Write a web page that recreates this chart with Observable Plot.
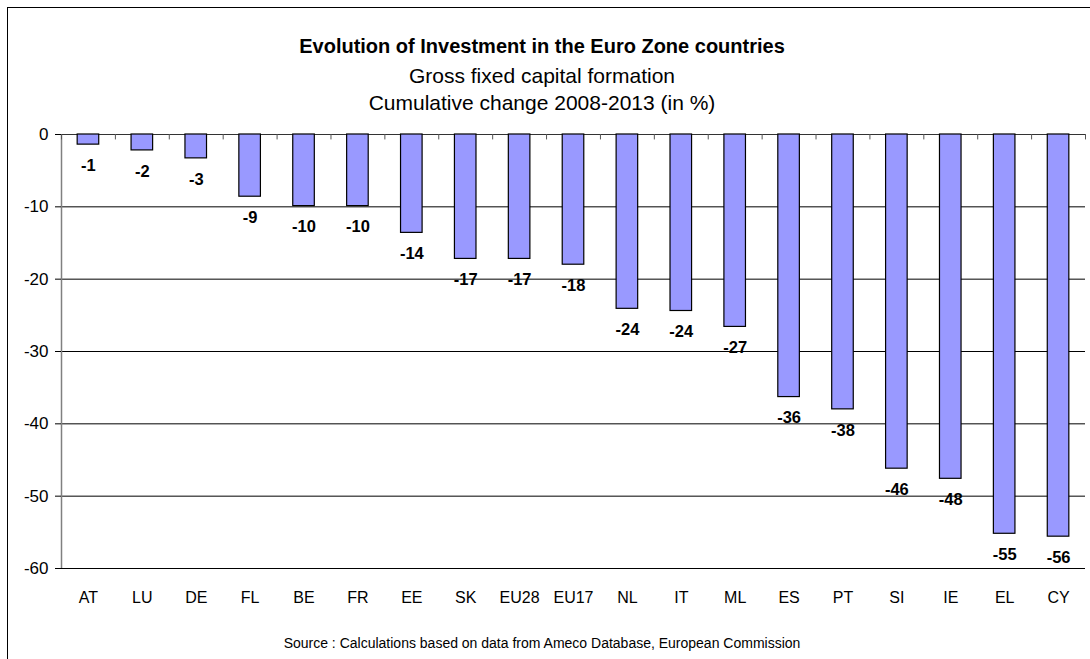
<!DOCTYPE html>
<html><head><meta charset="utf-8">
<script src="https://cdn.jsdelivr.net/npm/d3@7"></script>
<script src="https://cdn.jsdelivr.net/npm/@observablehq/plot@0.6"></script>
<style>
body{margin:0;background:#fff;font-family:"Liberation Sans",Arial,sans-serif;color:#000;}
#frame{position:absolute;left:7px;top:7px;width:1200px;height:800px;border:1.5px solid #000;}
.t{position:absolute;left:0;width:1084px;text-align:center;white-space:nowrap;}
#chart{position:absolute;left:9px;top:120px;}
</style></head><body>
<div id="frame"></div>
<div id="chart"></div>
<div class="t" style="top:34px;font-size:20px;font-weight:bold;line-height:24px">Evolution of Investment in the Euro Zone countries</div>
<div class="t" style="top:64px;font-size:21px;line-height:24px">Gross fixed capital formation</div>
<div class="t" style="top:91px;font-size:21px;line-height:24px">Cumulative change 2008-2013 (in %)</div>
<div class="t" style="top:635px;font-size:14px;line-height:16px">Source : Calculations based on data from Ameco Database, European Commission</div>
<script>
const countries = ["AT","LU","DE","FL","BE","FR","EE","SK","EU28","EU17","NL","IT","ML","ES","PT","SI","IE","EL","CY"];
const changes = [-1.4,-2.2,-3.3,-8.6,-9.9,-9.9,-13.6,-17.2,-17.2,-18.0,-24.1,-24.4,-26.6,-36.3,-38.0,-46.2,-47.6,-55.2,-55.6];
const yTicks = [0,-10,-20,-30,-40,-50,-60];
const gridTicks = [-10,-20,-30,-40,-50,-60];

const data = countries.map((c,i)=>({c, v: changes[i]}));
const W = 1081, ML = 52, MR = 5;
const half = (W - ML - MR) / countries.length / 2;

const chart = Plot.plot({
  width: W, height: 495,
  marginLeft: ML, marginRight: MR, marginTop: 14, marginBottom: 47,
  style: {background: "transparent", fontFamily: "Liberation Sans, Arial, sans-serif", fontSize: "16px", color: "#000", overflow: "visible"},
  x: {domain: countries, paddingInner: 0.6, paddingOuter: 0.3, align: 0.5, round: false},
  y: {domain: [-60, 0]},
  marks: [
    Plot.gridY(gridTicks, {stroke: "#000", strokeOpacity: 1}),
    Plot.ruleX([countries[0]], {y1: 0, y2: -60, dx: -half, stroke: "#808080", strokeWidth: 1.5}),
    Plot.ruleY([0], {stroke: "#333"}),
    Plot.ruleX(countries, {y1: 0, y2: -0.75, dx: -half, stroke: "#555"}),
    Plot.ruleX([countries[countries.length-1]], {y1: 0, y2: -0.75, dx: half, stroke: "#555"}),
    Plot.barY(data, {x: "c", y: "v", fill: "#9999ff", stroke: "#000", strokeWidth: 1.2}),
    Plot.text(data, {x: "c", y: "v", text: d => String(Math.round(d.v)), dy: 21, fontWeight: "bold", fontSize: 16.5, fill: "#000"}),
    Plot.axisY(yTicks, {tickSize: 6, tickPadding: 7, fontSize: 17, tickFormat: d => String(d), label: null}),
    Plot.axisX({tickSize: 0, tickPadding: 23, fontSize: 16, label: null})
  ]
});
document.getElementById("chart").appendChild(chart);
</script>
</body></html>
